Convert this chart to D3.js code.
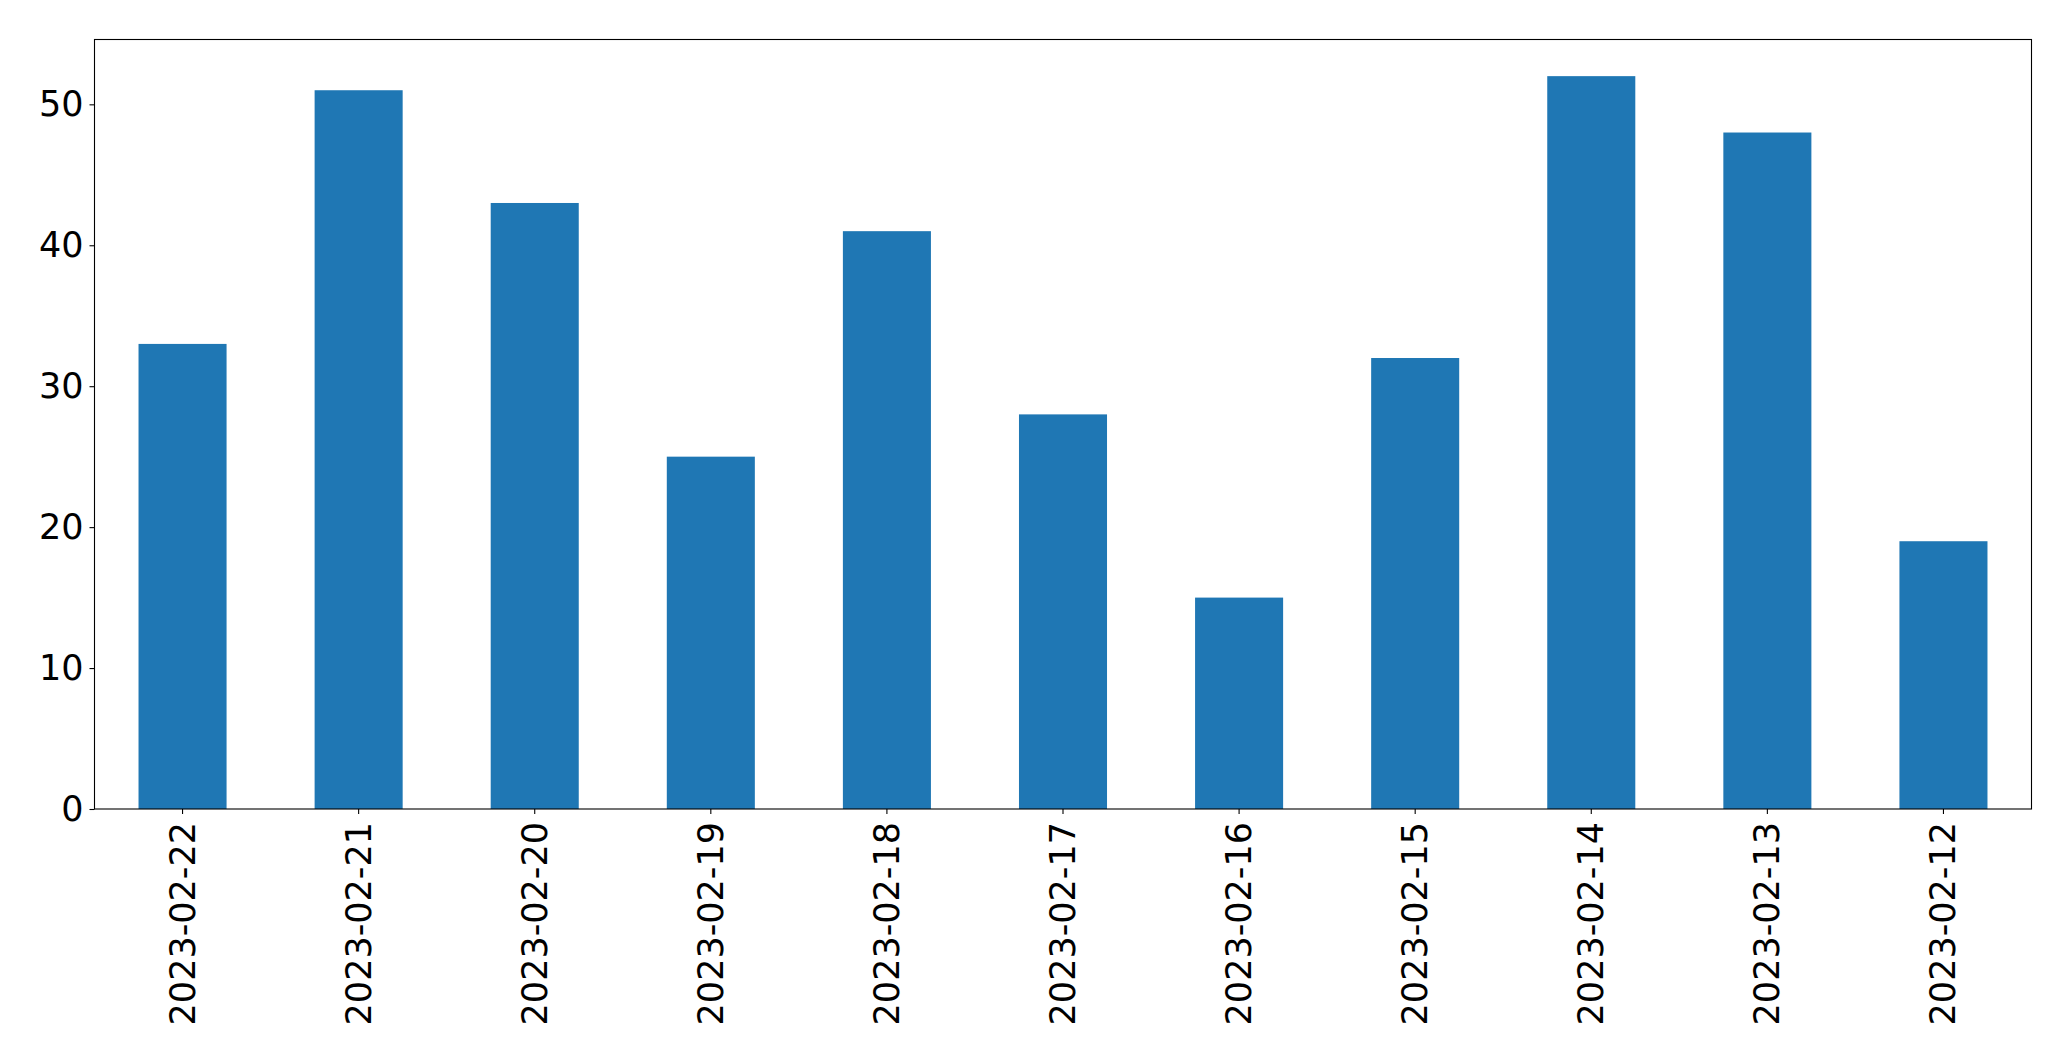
<!DOCTYPE html>
<html><head><meta charset="utf-8">
<script src="https://cdn.jsdelivr.net/npm/d3@7"></script>
<style>body{margin:0;background:#fff}svg{display:block}</style>
</head><body>
<script>
const categories = ["2023-02-22","2023-02-21","2023-02-20","2023-02-19","2023-02-18","2023-02-17","2023-02-16","2023-02-15","2023-02-14","2023-02-13","2023-02-12"];
const values = [33, 51, 43, 25, 41, 28, 15, 32, 52, 48, 19];
const yTicks = [0, 10, 20, 30, 40, 50];

const W = 2071, H = 1061;
const m = {left: 94.5, top: 39.5, right: 2031.5, bottom: 809};
const svg = d3.select("body").append("svg").attr("width", W).attr("height", H);

const x = d3.scaleBand().domain(categories).range([m.left, m.right]).paddingInner(0.5).paddingOuter(0.25);
const y = d3.scaleLinear().domain([0, d3.max(values) * 1.05]).range([m.bottom, m.top]);

svg.append("g").selectAll("rect").data(values).join("rect")
  .attr("x", (d, i) => x(categories[i]))
  .attr("width", x.bandwidth())
  .attr("y", d => y(d))
  .attr("height", d => y(0) - y(d))
  .attr("fill", "#1f77b4");

const font = "'DejaVu Sans', sans-serif";

const yAxis = svg.append("g").attr("transform", `translate(${m.left},0)`)
  .call(d3.axisLeft(y).tickValues(yTicks).tickSize(5).tickPadding(6).tickFormat(d3.format("d")));
yAxis.select(".domain").remove();
yAxis.selectAll("text").attr("font-family", font).attr("font-size", 35).attr("fill", "#000");
yAxis.selectAll("line").attr("stroke", "#000").attr("stroke-width", 1.1);

const xAxis = svg.append("g").attr("transform", `translate(0,${m.bottom})`)
  .call(d3.axisBottom(x).tickSize(5).tickPadding(0));
xAxis.select(".domain").remove();
xAxis.selectAll("line").attr("stroke", "#000").attr("stroke-width", 1.1);
xAxis.selectAll("text")
  .attr("font-family", font).attr("font-size", 35).attr("fill", "#000")
  .attr("text-anchor", "end")
  .attr("dy", null)
  .attr("dominant-baseline", "central")
  .attr("transform", "translate(0,13) rotate(-90)")
  .attr("y", 0).attr("x", 0);

svg.append("rect")
  .attr("x", m.left).attr("y", m.top)
  .attr("width", m.right - m.left).attr("height", m.bottom - m.top)
  .attr("fill", "none").attr("stroke", "#000").attr("stroke-width", 1.1);
</script>
</body></html>
